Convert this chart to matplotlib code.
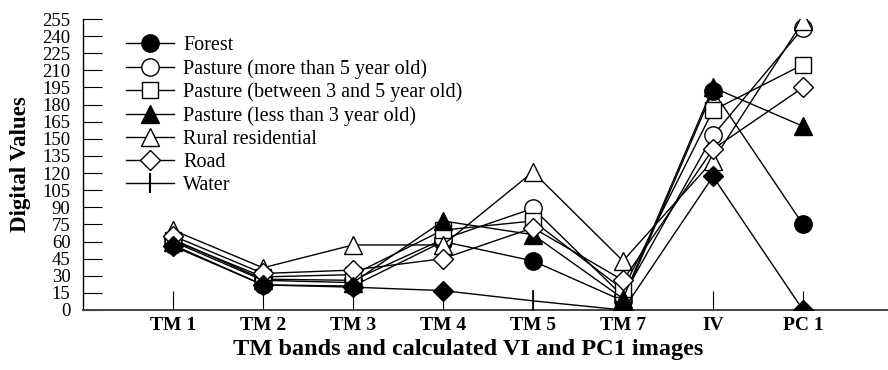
import numpy as np
import matplotlib
matplotlib.use('Agg')
import matplotlib.pyplot as plt
from matplotlib.lines import Line2D

plt.rcParams['font.family'] = ['Liberation Serif', 'DejaVu Serif']

bands = ['TM 1', 'TM 2', 'TM 3', 'TM 4', 'TM 5', 'TM 7', 'IV', 'PC 1']

forest = [57, 22, 21, 60, 43, 8, 192, 75]
pasture_old = [62, 27, 26, 62, 89, 12, 153, 247]
pasture_mid = [61, 29, 31, 70, 78, 18, 175, 215]
pasture_young = [60, 26, 24, 78, 66, 10, 195, 161]
rural = [70, 37, 57, 57, 121, 43, 131, 253]
road = [65, 32, 35, 45, 72, 26, 141, 195]
water = [56, 22, 20, 17, 8, 0, 117, 0]

# name, values, marker, face colour, marker size
series = [
    ('Forest', forest, 'o', 'black', 12.5),
    ('Pasture (more than 5 year old)', pasture_old, 'o', 'white', 12.5),
    ('Pasture (between 3 and 5 year old)', pasture_mid, 's', 'white', 11.5),
    ('Pasture (less than 3 year old)', pasture_young, '^', 'black', 13),
    ('Rural residential', rural, '^', 'white', 13),
    ('Road', road, 'D', 'white', 10),
]

x = np.arange(1, len(bands) + 1)

fig = plt.figure(figsize=(8.88, 3.7), dpi=100)
ax = fig.add_axes([83 / 888, 60 / 370, 805 / 888, 291 / 370])

handles = []
for name, vals, mk, fc, size in series:
    ax.plot(x, vals, color='black', lw=1, marker=mk, ms=size,
            mfc=fc, mec='black', mew=1, zorder=3)
    handles.append(Line2D([], [], color='black', lw=1, marker=mk, ms=size,
                          mfc=fc, mec='black', mew=1, label=name))

# water: filled diamonds, with a plain tick at TM 5
idx = [i for i in range(len(water)) if i != 4]
ax.plot(x, water, color='black', lw=1, marker='D', ms=10.5, mfc='black',
        mec='black', markevery=idx, zorder=3)
ax.plot(x[4], water[4], marker='|', ms=16, mew=1.2, color='black', zorder=3)
handles.append(Line2D([], [], color='black', lw=1, marker='|', ms=15,
                      mew=1.5, label='Water'))

ax.set_xlim(0, 805 / 90)
ax.set_ylim(0, 255)
ax.set_yticks(np.arange(0, 256, 15))
ax.set_xticks(x)
ax.set_xticklabels(bands, fontweight='bold', fontsize=14)
ax.tick_params(axis='y', direction='in', length=14, labelsize=13.5, pad=9)
ax.tick_params(axis='x', direction='in', length=14, pad=5)
for s in ['top', 'right']:
    ax.spines[s].set_visible(False)
ax.spines['left'].set_linewidth(1)
ax.spines['bottom'].set_linewidth(1.4)
ax.spines['bottom'].set_color('#444444')

ax.set_ylabel('Digital Values', fontweight='bold', fontsize=16.5, labelpad=8)
ax.set_xlabel('TM bands and calculated VI and PC1 images', fontweight='bold',
              fontsize=17.5, labelpad=4, x=(468 - 83) / 805)

ax.legend(handles=handles, loc='upper left', bbox_to_anchor=(0.053, 0.941),
          frameon=False, fontsize=14.5, handlelength=2.4, handletextpad=0.45,
          labelspacing=0.19, borderaxespad=0, borderpad=0)

fig.savefig('out.png', dpi=100)
